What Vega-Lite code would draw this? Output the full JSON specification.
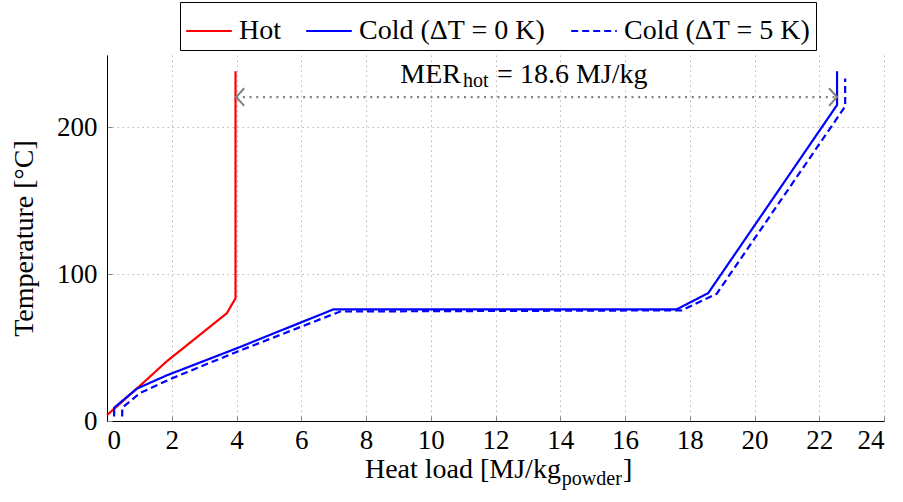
{
  "$schema": "https://vega.github.io/schema/vega-lite/v6.json",
  "width": 777,
  "height": 366,
  "autosize": {"type": "none"},
  "padding": {"left": 107, "top": 55, "right": 19, "bottom": 81},
  "config": {
    "view": {"stroke": null},
    "font": "Liberation Serif",
    "style": {
      "guide-label": {"font": "Liberation Serif", "fontSize": 27, "fill": "black"},
      "guide-title": {"font": "Liberation Serif", "fontSize": 28, "fill": "black", "fontWeight": "normal"}
    },
    "axis": {
      "grid": true,
      "gridColor": "#b8b8b8",
      "gridDash": [1.5, 3.5],
      "gridWidth": 1,
      "domainColor": "black",
      "domainWidth": 1,
      "tickColor": "#888888",
      "tickSize": -5,
      "labelFont": "Liberation Serif",
      "labelFontSize": 27,
      "labelColor": "black",
      "titleFont": "Liberation Serif",
      "titleFontSize": 28,
      "titleFontWeight": "normal",
      "titleColor": "black"
    },
    "legend": {
      "symbolType": "stroke",
      "symbolSize": 2080,
      "symbolStrokeWidth": 2.2,
      "labelFont": "Liberation Serif",
      "labelFontSize": 28,
      "labelColor": "black",
      "labelLimit": 0,
      "labelOffset": 6,
      "columnPadding": 20,
      "padding": 5,
      "strokeColor": "black",
      "fillColor": "white"
    }
  },
  "datasets": {
    "curves": [
      {"series": "Hot", "i": 0, "q": 0, "T": 4},
      {"series": "Hot", "i": 1, "q": 0.92, "T": 22},
      {"series": "Hot", "i": 2, "q": 1.84, "T": 40.5},
      {"series": "Hot", "i": 3, "q": 3.7, "T": 73.3},
      {"series": "Hot", "i": 4, "q": 3.97, "T": 83.5},
      {"series": "Hot", "i": 5, "q": 3.97, "T": 238},
      {"series": "Cold (ΔT = 0 K)", "i": 0, "q": 0.22, "T": 3},
      {"series": "Cold (ΔT = 0 K)", "i": 1, "q": 0.22, "T": 9},
      {"series": "Cold (ΔT = 0 K)", "i": 2, "q": 0.92, "T": 22},
      {"series": "Cold (ΔT = 0 K)", "i": 3, "q": 1.84, "T": 31},
      {"series": "Cold (ΔT = 0 K)", "i": 4, "q": 4, "T": 49.4},
      {"series": "Cold (ΔT = 0 K)", "i": 5, "q": 7, "T": 76},
      {"series": "Cold (ΔT = 0 K)", "i": 6, "q": 17.6, "T": 76},
      {"series": "Cold (ΔT = 0 K)", "i": 7, "q": 18.57, "T": 87},
      {"series": "Cold (ΔT = 0 K)", "i": 8, "q": 22.55, "T": 215},
      {"series": "Cold (ΔT = 0 K)", "i": 9, "q": 22.55, "T": 238},
      {"series": "Cold (ΔT = 5 K)", "i": 0, "q": 0.47, "T": 3},
      {"series": "Cold (ΔT = 5 K)", "i": 1, "q": 0.47, "T": 9},
      {"series": "Cold (ΔT = 5 K)", "i": 2, "q": 1.02, "T": 19},
      {"series": "Cold (ΔT = 5 K)", "i": 3, "q": 1.95, "T": 28.5},
      {"series": "Cold (ΔT = 5 K)", "i": 4, "q": 4, "T": 47},
      {"series": "Cold (ΔT = 5 K)", "i": 5, "q": 7.2, "T": 74.5},
      {"series": "Cold (ΔT = 5 K)", "i": 6, "q": 17.75, "T": 75.3},
      {"series": "Cold (ΔT = 5 K)", "i": 7, "q": 18.83, "T": 86.5},
      {"series": "Cold (ΔT = 5 K)", "i": 8, "q": 22.8, "T": 214},
      {"series": "Cold (ΔT = 5 K)", "i": 9, "q": 22.8, "T": 233}
    ],
    "arrow": [{"q": 3.99, "q2": 22.55, "T": 220.4}],
    "heads": [
      {"q": 3.99, "T": 220.4, "dir": "left"},
      {"q": 22.55, "T": 220.4, "dir": "right"}
    ],
    "textR": [
      {"q": 10.934, "T": 229.9, "txt": "MER"},
      {"q": 14.02, "T": -38.8, "txt": "Heat load [MJ/kg"}
    ],
    "textSub": [
      {"q": 10.996, "T": 227.0, "txt": "hot"},
      {"q": 14.05, "T": -43.5, "txt": "powder"}
    ],
    "textL": [
      {"q": 12.05, "T": 229.9, "txt": "= 18.6 MJ/kg"},
      {"q": 15.94, "T": -38.8, "txt": "]"}
    ]
  },
  "layer": [
    {
      "data": {"name": "curves"},
      "mark": {"type": "line", "strokeWidth": 2.2, "clip": false},
      "encoding": {
        "x": {
          "field": "q", "type": "quantitative",
          "scale": {"domain": [0, 24], "nice": false, "zero": false},
          "axis": {
            "values": [0, 2, 4, 6, 8, 10, 12, 14, 16, 18, 20, 22, 24], "title": null, "labelPadding": 11,
            "labelFont": "Liberation Serif", "labelFontSize": 27, "labelColor": "black",
            "encode": {"labels": {"update": {"font": {"value": "Liberation Serif"}, "fontSize": {"value": 27}}}}
          }
        },
        "y": {
          "field": "T", "type": "quantitative",
          "scale": {"domain": [0, 249], "nice": false, "zero": false},
          "axis": {
            "values": [0, 100, 200], "title": "Temperature [°C]", "titleX": -75, "titleBaseline": "alphabetic", "labelPadding": 15,
            "labelFont": "Liberation Serif", "labelFontSize": 27, "labelColor": "black", "titleFont": "Liberation Serif", "titleFontSize": 28,
            "encode": {"labels": {"update": {"font": {"value": "Liberation Serif"}, "fontSize": {"value": 27}}}}
          }
        },
        "color": {
          "field": "series", "type": "nominal",
          "scale": {"domain": ["Hot", "Cold (ΔT = 0 K)", "Cold (ΔT = 5 K)"], "range": ["#ff0000", "#0000ff", "#0000ff"]},
          "legend": {"orient": "none", "legendX": 73, "legendY": -53, "direction": "horizontal", "title": null, "labelLimit": 0}
        },
        "strokeDash": {
          "field": "series", "type": "nominal",
          "scale": {"domain": ["Hot", "Cold (ΔT = 0 K)", "Cold (ΔT = 5 K)"], "range": [[1, 0], [1, 0], [7, 4]]},
          "legend": {"orient": "none", "legendX": 73, "legendY": -53, "direction": "horizontal", "title": null, "labelLimit": 0}
        },
        "order": {"field": "i", "type": "quantitative"}
      }
    },
    {
      "data": {"name": "arrow"},
      "mark": {"type": "rule", "color": "#808080", "strokeWidth": 2.2, "strokeDash": [2, 4.7]},
      "encoding": {
        "x": {"field": "q", "type": "quantitative"},
        "x2": {"field": "q2"},
        "y": {"field": "T", "type": "quantitative"}
      }
    },
    {
      "data": {"name": "heads"},
      "mark": {"type": "point", "filled": false, "stroke": "#808080", "strokeWidth": 2, "size": 256, "opacity": 1},
      "encoding": {
        "x": {"field": "q", "type": "quantitative"},
        "y": {"field": "T", "type": "quantitative"},
        "shape": {
          "field": "dir", "type": "nominal",
          "scale": {"domain": ["left", "right"], "range": ["M1,-1.1L0,0L1,1.1", "M-1,-1.1L0,0L-1,1.1"]},
          "legend": null
        }
      }
    },
    {
      "data": {"name": "textR"},
      "mark": {"type": "text", "align": "right", "baseline": "alphabetic", "fontSize": 28, "font": "Liberation Serif", "color": "black"},
      "encoding": {
        "x": {"field": "q", "type": "quantitative"},
        "y": {"field": "T", "type": "quantitative"},
        "text": {"field": "txt"}
      }
    },
    {
      "data": {"name": "textSub"},
      "mark": {"type": "text", "align": "left", "baseline": "alphabetic", "fontSize": 20, "font": "Liberation Serif", "color": "black"},
      "encoding": {
        "x": {"field": "q", "type": "quantitative"},
        "y": {"field": "T", "type": "quantitative"},
        "text": {"field": "txt"}
      }
    },
    {
      "data": {"name": "textL"},
      "mark": {"type": "text", "align": "left", "baseline": "alphabetic", "fontSize": 28, "font": "Liberation Serif", "color": "black"},
      "encoding": {
        "x": {"field": "q", "type": "quantitative"},
        "y": {"field": "T", "type": "quantitative"},
        "text": {"field": "txt"}
      }
    }
  ]
}
